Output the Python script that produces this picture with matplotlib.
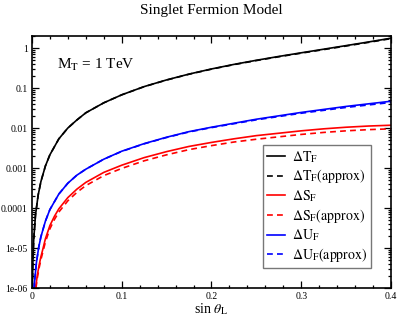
import numpy as np
import matplotlib
matplotlib.use("Agg")
import matplotlib.pyplot as plt
from matplotlib.ticker import MultipleLocator, LogLocator, NullFormatter

plt.rcParams['font.family'] = ['Liberation Serif', 'DejaVu Serif']
plt.rcParams['mathtext.fontset'] = 'stix'

# values: sin(theta_L) and log10 of each quantity
s_T = [0.0005, 0.001, 0.002, 0.004, 0.007, 0.01, 0.015, 0.02, 0.03, 0.04, 0.05, 0.06,
       0.08, 0.1, 0.125, 0.15, 0.175, 0.2, 0.225, 0.25, 0.275, 0.3, 0.325, 0.35, 0.375, 0.4]
logT = [-6.02, -5.40, -4.79, -4.17, -3.67, -3.34, -2.95, -2.67, -2.27, -2.00, -1.80, -1.62,
        -1.37, -1.17, -0.964, -0.797, -0.651, -0.523, -0.409, -0.306, -0.210, -0.119,
        -0.029, 0.061, 0.152, 0.246]
logT_approx = [-6.02, -5.40, -4.79, -4.17, -3.67, -3.34, -2.95, -2.67, -2.27, -2.00, -1.80, -1.62,
               -1.37, -1.17, -0.966, -0.800, -0.655, -0.528, -0.415, -0.313, -0.218, -0.128,
               -0.039, 0.051, 0.142, 0.236]

s_U = [0.0024, 0.003, 0.005, 0.0075, 0.01, 0.015, 0.02, 0.03, 0.04, 0.05, 0.06, 0.08,
       0.1, 0.125, 0.15, 0.175, 0.2, 0.25, 0.3, 0.35, 0.4]
logU = [-6.04, -5.83, -5.37, -4.99, -4.72, -4.33, -4.04, -3.65, -3.38, -3.18, -3.03, -2.78,
        -2.58, -2.39, -2.23, -2.09, -1.98, -1.78, -1.61, -1.46, -1.33]
logU_approx = [-6.04, -5.83, -5.37, -4.99, -4.72, -4.33, -4.04, -3.65, -3.38, -3.18, -3.03, -2.78,
               -2.585, -2.395, -2.237, -2.098, -1.99, -1.795, -1.63, -1.485, -1.36]

s_S = [0.0042, 0.006, 0.008, 0.01, 0.0125, 0.015, 0.02, 0.025, 0.03, 0.04, 0.05, 0.06,
       0.08, 0.1, 0.125, 0.15, 0.175, 0.2, 0.225, 0.25, 0.275, 0.3, 0.325, 0.35, 0.375, 0.4]
logS = [-5.99, -5.68, -5.43, -5.22, -5.00, -4.77, -4.44, -4.21, -4.02, -3.74, -3.53, -3.36,
        -3.11, -2.93, -2.74, -2.59, -2.46, -2.36, -2.27, -2.19, -2.13, -2.07, -2.02, -1.98,
        -1.95, -1.93]
s_S_approx = [0.0045, 0.006, 0.008, 0.01, 0.0125, 0.015, 0.02, 0.025, 0.03, 0.04, 0.05, 0.06,
              0.08, 0.1, 0.125, 0.15, 0.175, 0.2, 0.225, 0.25, 0.275, 0.3, 0.325, 0.35, 0.375, 0.4]
logS_approx = [-6.0, -5.75, -5.50, -5.29, -5.07, -4.85, -4.52, -4.29, -4.10, -3.82, -3.61, -3.44,
               -3.19, -3.01, -2.82, -2.67, -2.54, -2.44, -2.35, -2.28, -2.22, -2.16, -2.11, -2.07,
               -2.04, -2.02]

ytick_vals = [1e-6, 1e-5, 1e-4, 1e-3, 1e-2, 1e-1, 1]
ytick_labels = ["1e-06", "1e-05", "0.0001", "0.001", "0.01", "0.1", "1"]
xtick_vals = [0, 0.1, 0.2, 0.3, 0.4]
xtick_labels = ["0", "0.1", "0.2", "0.3", "0.4"]

fig = plt.figure(figsize=(3.99, 3.2), dpi=100)
ax = fig.add_axes([0.080, 0.100, 0.900, 0.7875])

lw = 1.2
dash = (0, (3.5, 2.5))
ax.plot(s_T, 10 ** np.array(logT), color="black", lw=lw, label=r"$\Delta\mathrm{T}_\mathrm{F}$")
ax.plot(s_T, 10 ** np.array(logT_approx), color="black", lw=lw, ls=dash,
        label=r"$\Delta\mathrm{T}_\mathrm{F}\mathrm{(approx)}$")
ax.plot(s_S, 10 ** np.array(logS), color="red", lw=lw, label=r"$\Delta\mathrm{S}_\mathrm{F}$")
ax.plot(s_S_approx, 10 ** np.array(logS_approx), color="red", lw=lw, ls=dash,
        label=r"$\Delta\mathrm{S}_\mathrm{F}\mathrm{(approx)}$")
ax.plot(s_U, 10 ** np.array(logU), color="blue", lw=lw, label=r"$\Delta\mathrm{U}_\mathrm{F}$")
ax.plot(s_U, 10 ** np.array(logU_approx), color="blue", lw=lw, ls=dash,
        label=r"$\Delta\mathrm{U}_\mathrm{F}\mathrm{(approx)}$")

ax.set_yscale("log")
ax.set_xlim(0, 0.4)
ax.set_ylim(1e-6, 2)

ax.set_xticks(xtick_vals)
ax.set_xticklabels(xtick_labels)
ax.xaxis.set_minor_locator(MultipleLocator(0.02))
ax.set_yticks(ytick_vals)
ax.set_yticklabels(ytick_labels)
ax.yaxis.set_minor_locator(LogLocator(base=10, subs=np.arange(2, 10), numticks=20))
ax.yaxis.set_minor_formatter(NullFormatter())

ax.tick_params(which="both", direction="in", top=True, right=True, labelsize=7, width=0.9)
ax.tick_params(which="major", length=5, pad=3)
ax.tick_params(which="minor", length=2.5)
for sp in ax.spines.values():
    sp.set_linewidth(1.2)

ax.set_title("Singlet Fermion Model", fontsize=11, pad=16)
ax.set_xlabel(r"sin $\theta_\mathrm{L}$", fontsize=10, labelpad=0)
ax.text(0.07, 0.87, r"M$_\mathrm{T}$ = 1 TeV", transform=ax.transAxes, fontsize=11)

leg = ax.legend(loc="lower right", bbox_to_anchor=(0.945, 0.078), fontsize=10,
                frameon=True, fancybox=False, handlelength=1.3, handletextpad=0.5,
                labelspacing=0.2, borderpad=0.3, borderaxespad=0)
leg.get_frame().set_edgecolor("#555555")
leg.get_frame().set_linewidth(1.0)

fig.savefig("out.png", dpi=100)
